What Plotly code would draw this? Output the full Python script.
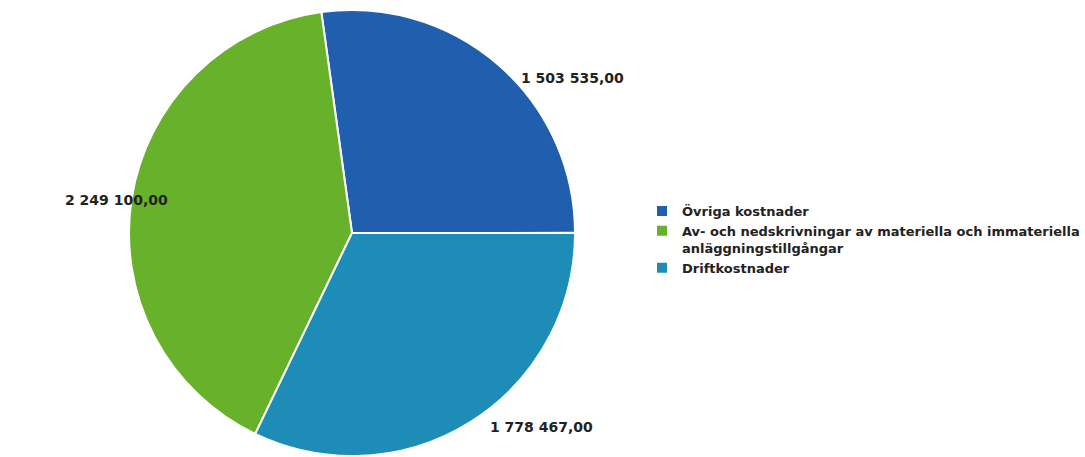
import plotly.graph_objects as go

categories = ["Övriga kostnader",
              "Av- och nedskrivningar av materiella och immateriella<br>anläggningstillgångar",
              "Driftkostnader"]
values = [1503535.00, 2249100.00, 1778467.00]
colors = ["#1f5fae", "#68b22b", "#1d8cb6"]

def fmt(v):
    return f"{v:,.2f}".replace(",", " ").replace(".", ",")

W, H = 1085, 457
cx, cy, r = 352, 233, 223

fig = go.Figure(go.Pie(
    labels=categories,
    values=values,
    sort=False,
    direction="counterclockwise",
    rotation=-7.9,
    marker=dict(colors=colors, line=dict(color="white", width=2)),
    textinfo="none",
    hoverinfo="label+value",
    domain=dict(x=[(cx - r) / W, (cx + r) / W], y=[(H - cy - r) / H, (H - cy + r) / H]),
))

label_pos = [(572, 68), (63, 200), (541, 437)]
for v, (x, y) in zip(values, label_pos):
    fig.add_annotation(x=x / W, y=1 - y / H, xref="paper", yref="paper",
                       text=fmt(v), showarrow=False,
                       font=dict(family="DejaVu Sans", size=14, color="#222222", weight="bold"))

fig.update_layout(
    width=W, height=H,
    margin=dict(l=0, r=0, t=0, b=0),
    paper_bgcolor="white",
    plot_bgcolor="white",
    showlegend=True,
    legend=dict(x=642 / W, y=1 - 196 / H, xanchor="left", yanchor="top",
                valign="top", tracegroupgap=0,
                font=dict(family="DejaVu Sans", size=13, color="#222222", weight="bold"),
                bgcolor="rgba(0,0,0,0)"),
)

fig.write_html("out.html")
